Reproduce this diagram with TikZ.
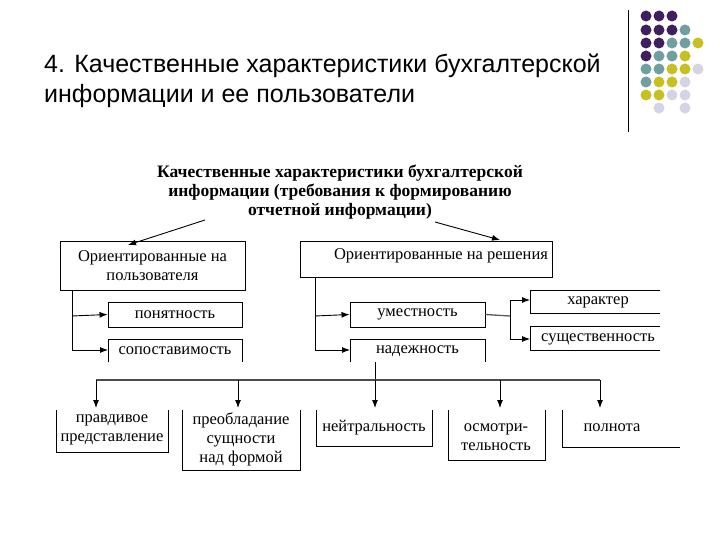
\documentclass[tikz,border=0pt]{standalone}
\usepackage{fontspec}
\setmainfont{Liberation Serif}
\newfontfamily\titlefont{Liberation Sans}
\usetikzlibrary{arrows.meta}
\definecolor{cP}{HTML}{3F1F5F}\definecolor{cT}{HTML}{6F9F9F}
\definecolor{cY}{HTML}{C8C020}\definecolor{cL}{HTML}{D4D4E4}
\definecolor{cN}{HTML}{FFFFFF}
\begin{document}
\begin{tikzpicture}[x=1pt,y=-1pt,
 txt/.style={font=\fontsize{16.5}{19}\selectfont,align=center,inner sep=0},
 arr/.style={-{Latex[length=8pt,width=6pt]},line width=0.9pt},
 ln/.style={line width=0.9pt},
 bx/.style={draw,line width=0.9pt}]
\useasboundingbox (0,0) rectangle (720,540);
% title
\node[anchor=west,font=\titlefont\fontsize{25}{28}\selectfont,inner sep=0] (t1) at (44,66) {4. Качественные характеристики бухгалтерской};
\node[anchor=west,font=\titlefont\fontsize{25}{28}\selectfont,inner sep=0] (t2) at (44,96) {информации и ее пользователи};
\draw[line width=1pt] (628,10) -- (628,132);
\foreach \row/\cols in {16/{P,P,P,N,N},30/{P,P,P,T,N},43/{P,P,T,T,Y},56/{P,T,T,Y,N},69/{T,T,Y,Y,L},82/{T,Y,Y,L,N},95/{Y,Y,L,L,N},108/{N,L,N,L,N}}{
 \foreach \c [count=\i] in \cols {
  \fill[color=c\c] ({633+13*\i},\row) circle (5.5);
 }}
% header
\node[txt,font=\bfseries\fontsize{17.5}{19}\selectfont] (h) at (340,192) {Качественные характеристики бухгалтерской\\информации (требования к формированию\\отчетной информации)};
\coordinate (ha) at (205,220); \coordinate (hb) at (435,222);
\node[bx,minimum width=185,minimum height=49,inner sep=0] (A) at (152.5,265.5) {};
\node[txt] at (A) {Ориентированные на\\пользователя};
\node[bx,minimum width=252,minimum height=36,inner sep=0] (B) at (426,259) {};
\node[txt,anchor=north] at (441,248) {Ориентированные на решения};
\draw[arr] (ha) -- (128,245);
\draw[arr] (hb) -- (500,240);
% left
\node[bx,minimum width=134,minimum height=25,inner sep=0] (p1) at (175,314.5) {};
\node[txt] at (p1) {понятность};
\draw[ln] (108,362) -- (108,339) -- (242,339) -- (242,362);
\node[txt] (p2) at (175,351) {сопоставимость};
\draw[ln] (72,290) -- (72,350);
\draw[arr] (72,316) -- (p1.west);
\draw[arr] (72,350) -- (108,350);
% right
\node[bx,minimum width=135,minimum height=25,inner sep=0] (r1) at (417.5,314.5) {};
\node[txt] at (r1) {уместность};
\draw[ln] (350,362) -- (350,339) -- (485,339) -- (485,362);
\node[txt] (r2) at (417.5,351) {надежность};
\draw[ln] (315,277) -- (315,350);
\draw[arr] (315,316) -- (r1.west);
\draw[arr] (315,350) -- (350,350);
\draw[ln,gray!70!black,line width=1.3pt] (r1.east) -- (510,316);
\draw[ln] (510,300) -- (510,339);
\draw[ln] (660,290) -- (530,290) -- (530,313) -- (660,313);
\node[txt] (k1) at (598,302) {характер};
\draw[ln] (660,326) -- (530,326) -- (530,350) -- (660,350);
\node[txt] (k2) at (598,339) {существенность};
\draw[arr] (510,300) -- (530,300);
\draw[arr] (510,339) -- (530,339);
% bottom
\draw[ln] (375,362) -- (375,380);
\draw[ln,gray!60!black,line width=1.4pt] (96,380) -- (600,380);
\draw[ln] (56,410) -- (56,452) -- (168,452) -- (168,410);
\node[txt] (b1) at (112,430) {правдивое\\представление};
\draw[ln] (182,410) -- (182,470) -- (300,470) -- (300,410);
\node[txt] (b2) at (241,439) {преобладание\\сущности\\над формой};
\draw[ln] (316,410) -- (316,446) -- (432,446) -- (432,410);
\node[txt] (b3) at (374,428) {нейтральность};
\draw[ln] (448,410) -- (448,460) -- (545,460) -- (545,410);
\node[txt] (b4) at (496,437) {осмотри-\\тельность};
\draw[ln] (562,410) -- (562,447) -- (680,447);
\node[txt] (b5) at (612,428) {полнота};
\foreach \x in {96,238,375,500,600} \draw[arr] (\x,380) -- (\x,408);
\end{tikzpicture}
\end{document}
